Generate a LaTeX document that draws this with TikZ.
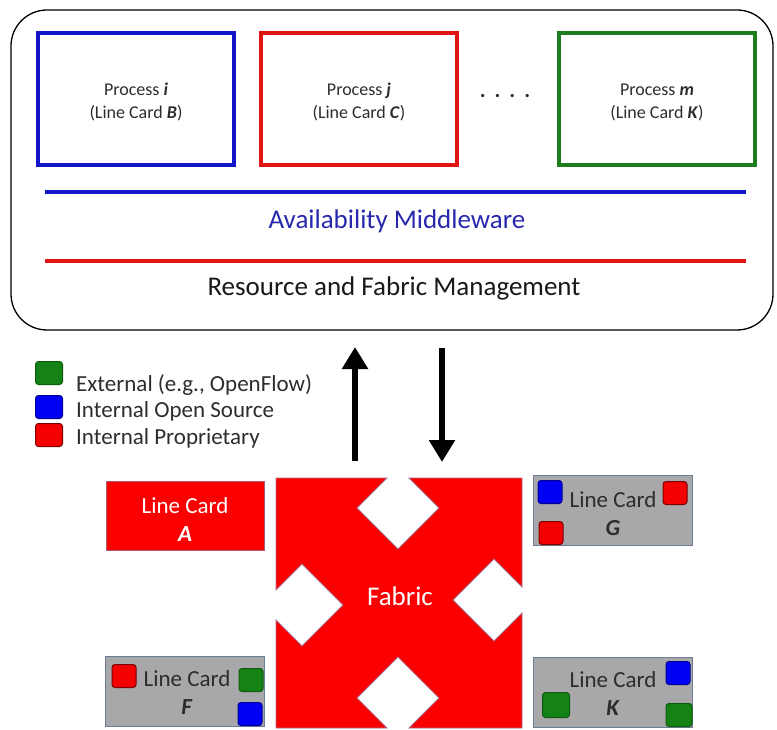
\documentclass[tikz,border=0pt]{standalone}
\usepackage{fontspec}
\setmainfont{Carlito}
\usetikzlibrary{arrows.meta}
\definecolor{pblue}{RGB}{20,20,200}
\definecolor{pred}{RGB}{225,20,20}
\definecolor{pgreen}{RGB}{30,125,30}
\definecolor{fabred}{RGB}{250,0,0}
\definecolor{cardgray}{RGB}{168,168,170}
\definecolor{cardedge}{RGB}{110,125,150}
\definecolor{txtgray}{RGB}{45,45,45}
\definecolor{mwblue}{RGB}{40,40,175}
\definecolor{sqgreen}{RGB}{20,130,20}
\definecolor{sqblue}{RGB}{0,0,245}
\definecolor{sqred}{RGB}{245,0,0}
\begin{document}
\begin{tikzpicture}[x=1pt,y=-1pt,
  procbox/.style={draw, line width=4.5pt, minimum width=196pt, minimum height=132pt, inner sep=0pt},
  proctxt/.style={align=center, font=\fontsize{18}{23}\selectfont, text=txtgray},
  cardbox/.style={draw=cardedge, fill=cardgray, line width=1pt, minimum width=159pt, minimum height=70pt, inner sep=0pt},
  cardtxt/.style={align=center, font=\fontsize{23}{28}\selectfont, text=txtgray},
  sq/.style={rounded corners=3pt, line width=1pt, minimum width=24pt, minimum height=23pt, inner sep=0pt},
  sqg/.style={sq, fill=sqgreen, draw=sqgreen!70!black},
  sqb/.style={sq, fill=sqblue, draw=sqblue!60!black},
  sqr/.style={sq, fill=sqred, draw=sqred!50!black},
  legtxt/.style={anchor=west, font=\fontsize{23}{26}\selectfont, text=txtgray, inner sep=0pt},
  bigarrow/.style={line width=6.5pt, -{Triangle[width=25pt,length=22pt]}}
]
\useasboundingbox (0,0) rectangle (777,730);
% outer rounded box
\node[draw=black, line width=1.3pt, rounded corners=36pt, minimum width=762pt, minimum height=320pt, inner sep=0pt] (outer) at (392,170) {};
% process boxes
\node[procbox, draw=pblue] (pi) at (136,99) {};
\node[proctxt] (pit) at (136,102) {Process \textbf{\textit{i}}\\(Line Card \textbf{\textit{B}})};
\node[procbox, draw=pred] (pj) at (359,99) {};
\node[proctxt] (pjt) at (359,102) {Process \textbf{\textit{j}}\\(Line Card \textbf{\textit{C}})};
\node[procbox, draw=pgreen] (pm) at (657,99) {};
\node[proctxt] (pmt) at (657,102) {Process \textbf{\textit{m}}\\(Line Card \textbf{\textit{K}})};
\node[font=\fontsize{22}{24}\selectfont\bfseries, text=txtgray] (dots) at (505,96) {.\hspace{9pt}.\hspace{9pt}.\hspace{9pt}.};
% layer lines
\coordinate (bl1) at (45,192); \coordinate (bl2) at (746,192);
\draw[pblue, line width=4pt] (bl1) -- (bl2);
\node[font=\fontsize{27}{30}\selectfont, text=mwblue] (mw) at (397,221) {Availability Middleware};
\coordinate (rl1) at (45,261); \coordinate (rl2) at (746,261);
\draw[pred, line width=4pt] (rl1) -- (rl2);
\node[font=\fontsize{27}{30}\selectfont, text=black!90] (rfm) at (394,288) {Resource and Fabric Management};
% legend
\node[sqg, minimum width=27pt] (lg) at (49,373) {};
\node[sqb, minimum width=27pt] (lb) at (49,407) {};
\node[sqr, minimum width=27pt] (lr) at (49,435) {};
\node[legtxt] (tg) at (76,385) {External (e.g., OpenFlow)};
\node[legtxt] (tb) at (76,411) {Internal Open Source};
\node[legtxt] (tr) at (76,438) {Internal Proprietary};
% arrows
\coordinate (upS) at (355,461); \coordinate (upE) at (355,347);
\coordinate (dnS) at (442,348); \coordinate (dnE) at (442,462);
\draw[bigarrow] (upS) -- (upE);
\draw[bigarrow] (dnS) -- (dnE);
% fabric
\path[fill=fabred, draw={rgb,255:red,170;green,110;blue,140}, line width=0.8pt]
  (276,478) -- (387,478) -- (357,508) -- (398,549) -- (439,508) -- (409,478) -- (522,478)
  -- (522,587) -- (494,559) -- (453,600) -- (494,641) -- (522,613) -- (522,728)
  -- (409,728) -- (439,698) -- (398,657) -- (357,698) -- (387,728) -- (276,728)
  -- (276,620) -- (302,646) -- (343,605) -- (302,564) -- (276,590) -- cycle;
\node[text=white, font=\fontsize{27}{30}\selectfont] (fab) at (400,596) {Fabric};
% line card A
\node[fill=fabred, draw={rgb,255:red,170;green,90;blue,120}, line width=0.8pt, minimum width=158pt, minimum height=69pt, inner sep=0pt] (lcA) at (185,516) {};
\node[cardtxt, text=white] (lcAt) at (185,520) {Line Card\\\textbf{\textit{A}}};
% line card F
\node[cardbox] (lcF) at (185,691) {};
\node[cardtxt] (lcFt) at (187,693) {Line Card\\\textbf{\textit{F}}};
\node[sqr] (fR) at (124,676) {};
\node[sqg] (fG) at (251,680) {};
\node[sqb] (fB) at (250,714) {};
% line card G
\node[cardbox] (lcG) at (613,510) {};
\node[cardtxt] (lcGt) at (613,514) {Line Card\\\textbf{\textit{G}}};
\node[sqb] (gB) at (550,492) {};
\node[sqr] (gR1) at (675,493) {};
\node[sqr] (gR2) at (551,533) {};
% line card K
\node[cardbox] (lcK) at (613,692) {};
\node[cardtxt] (lcKt) at (613,694) {Line Card\\\textbf{\textit{K}}};
\node[sqb] (kB) at (678,673) {};
\node[sqg, minimum width=27pt, minimum height=25pt] (kG1) at (556,705) {};
\node[sqg, minimum width=26pt] (kG2) at (679,715) {};
\end{tikzpicture}
\end{document}
